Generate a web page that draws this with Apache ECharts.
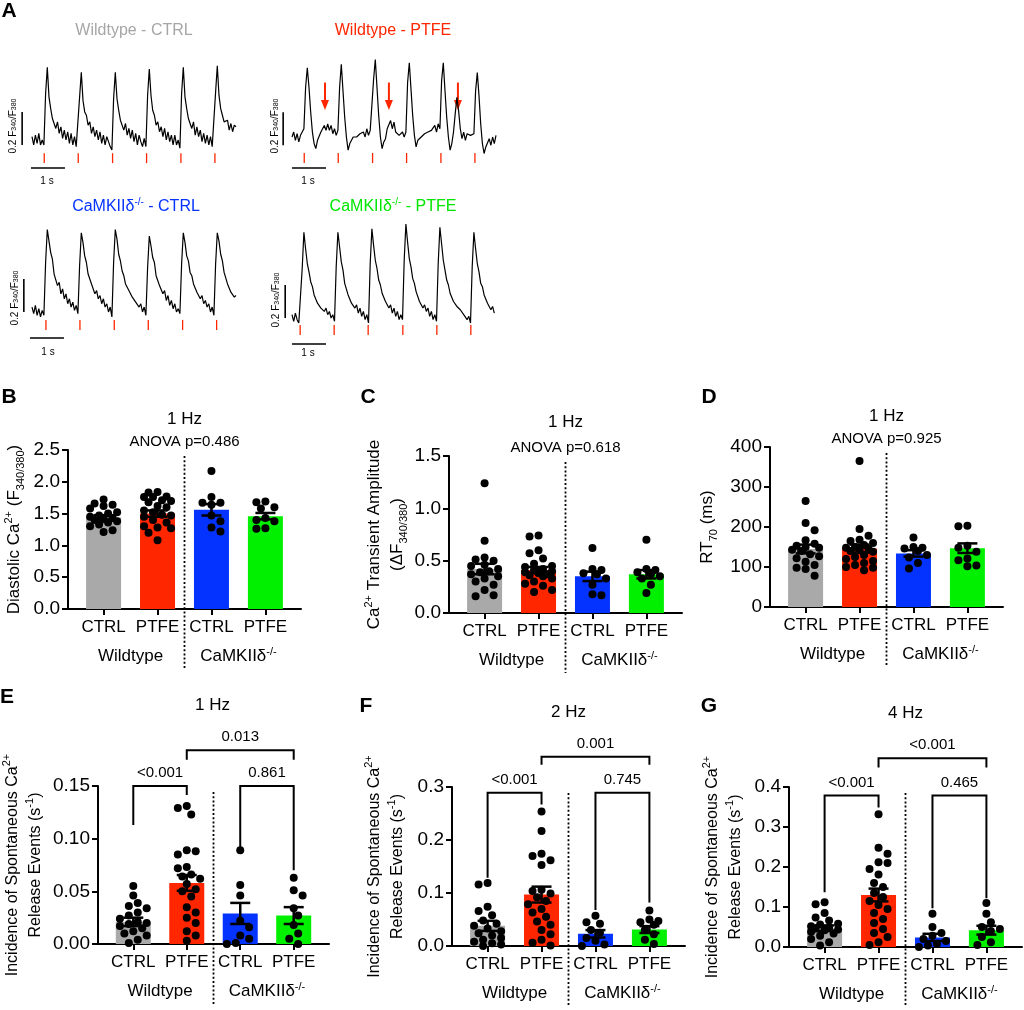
<!DOCTYPE html>
<html><head><meta charset="utf-8">
<script src="https://cdn.jsdelivr.net/npm/echarts@6/dist/echarts.min.js"></script>
<style>html,body{margin:0;padding:0;background:#fff}#c{width:1024px;height:1010px}</style>
</head><body><div id="c"></div><script>
// ---------- DATA ----------
const SAMPLE_DT = 0.05; // s between trace samples
// Ca2+ traces, units of 0.01 F340/F380 relative to diastolic baseline
const traceWtCtrl = [
2,-3,3,-2,4,-3,0,
-3,28,44,26,19,13,14,7,11,4,8,1,6,0,5,-2,4,-3,2,-4,
-5,26,41,24,17,15,9,11,4,8,2,6,0,5,-2,3,-3,2,-1,-4,
-6,25,41,25,18,12,13,6,10,3,7,1,6,-1,4,-3,3,-1,-4,1,
-4,27,43,27,18,15,9,11,5,8,2,7,0,5,-1,3,-3,3,-3,0,
-5,28,44,26,19,13,12,7,11,3,8,2,6,-1,4,-2,3,-3,2,-4,
-4,29,45,27,19,15,11,10,12,6,10,5,9,8];
const traceWtPtfe = [
0,3,-2,2,-3,1,3,
5,30,42,30,15,3,-4,-7,-2,-1,3,3,7,4,8,4,7,2,5,1,
4,30,44,28,12,0,-8,-4,-4,0,0,0,1,2,1,3,0,5,1,4,
3,35,47,30,13,0,-7,-3,-1,5,6,10,5,9,3,3,1,1,3,0,
3,33,45,29,13,1,-6,-2,-1,0,1,2,2,3,3,4,4,7,3,8,
5,34,45,28,12,0,-8,-4,3,14,24,16,5,-1,3,-2,2,2,1,1,
2,28,39,25,8,-4,-10,-6,-6,-1,-5,0,-4,1];
const traceKoCtrl = [
3,-1,4,-2,2,-3,1,
-2,30,50,43,36,32,23,23,16,18,11,14,8,11,5,8,3,6,1,4,
-1,28,48,42,34,30,23,22,17,16,11,13,8,10,5,8,3,5,0,3,
-3,30,50,44,35,31,25,22,17,16,13,12,9,9,6,7,3,5,0,3,
-2,27,46,40,33,30,22,22,16,16,11,13,7,10,4,7,2,5,0,2,
-1,29,48,42,34,31,24,22,17,17,12,12,8,10,5,7,3,5,0,3,
-2,29,48,43,35,31,24,23,17,17,12,13,9,10];
const traceKoPtfe = [
2,-2,3,-1,-3,
-3,30,52,42,33,28,22,19,14,14,9,10,6,7,4,6,2,4,0,2,
-2,31,52,43,34,29,21,20,14,14,9,10,6,8,3,6,1,4,-1,2,
-3,33,54,44,35,30,23,20,15,15,10,11,6,8,3,6,1,4,-1,2,
-1,35,57,46,36,31,24,21,16,15,10,11,6,8,4,6,1,4,-1,2,
-2,33,55,45,35,29,23,20,15,14,10,10,7,6,5,4,2,3,-1,1,
-3,31,52,42,33,28,21,19,14,13,9,10,5,7,3];
const stimWtCtrl = [0.36,1.36,2.37,3.37,4.38,5.38];
const stimWtPtfe = [0.36,1.36,2.37,3.37,4.38,5.38];
const stimKoCtrl = [0.41,1.41,2.42,3.42,4.43,5.43];
const stimKoPtfe = [0.24,1.24,2.24,3.26,4.26,5.26];
const spontaneousWtPtfe = [0.97,2.85,4.88]; // s, arrows
const SCALE_RATIO = 0.2, SCALE_SEC = 1;

const categories = ['CTRL','PTFE','CTRL','PTFE'];
const genotypes = ['Wildtype','CaMKIIδ'];
const traceTitles = ['Wildtype - CTRL','Wildtype - PTFE','CaMKIIδ|-/-| - CTRL','CaMKIIδ|-/-| - PTFE'];

const diastolicMean = [1.44,1.50,1.56,1.46];
const diastolicSem = [0.035,0.05,0.09,0.05];
const diastolicPoints = [
 [1.72,1.66,1.64,1.62,1.58,1.52,1.50,1.47,1.45,1.43,1.41,1.40,1.38,1.36,1.33,1.30,1.24,1.21],
 [1.84,1.83,1.77,1.76,1.76,1.71,1.70,1.68,1.62,1.60,1.55,1.52,1.48,1.47,1.45,1.40,1.36,1.30,1.28,1.27,1.20,1.08],
 [2.17,1.76,1.67,1.67,1.64,1.47,1.38,1.28,1.22],
 [1.69,1.68,1.60,1.58,1.43,1.40,1.38,1.27,1.26]];
const amplitudeMean = [0.42,0.41,0.35,0.37];
const amplitudeSem = [0.05,0.03,0.045,0.04];
const amplitudePoints = [
 [1.24,0.69,0.53,0.51,0.50,0.46,0.45,0.42,0.40,0.39,0.37,0.35,0.33,0.30,0.27,0.22,0.17,0.16],
 [0.74,0.73,0.60,0.57,0.52,0.47,0.45,0.44,0.42,0.41,0.40,0.39,0.38,0.37,0.36,0.35,0.33,0.30,0.28,0.26,0.22,0.20],
 [0.62,0.42,0.41,0.38,0.37,0.33,0.27,0.18,0.17],
 [0.70,0.42,0.41,0.39,0.37,0.35,0.33,0.27,0.19]];
const rt70Mean = [145,146,134,147];
const rt70Sem = [11,10,8,12];
const rt70Points = [
 [265,210,192,167,158,153,150,148,143,140,132,127,122,113,105,98,95,78],
 [365,195,178,168,165,160,155,150,148,145,142,140,138,130,125,120,115,110,105,100,98,92],
 [174,150,148,146,140,130,124,110,96],
 [203,202,153,148,138,121,117,104,102]];
const sre1HzMean = [0.021,0.058,0.029,0.027];
const sre1HzSem = [0.004,0.0075,0.010,0.008];
const sre1HzPoints = [
 [0.055,0.046,0.039,0.036,0.034,0.030,0.027,0.024,0.021,0.020,0.019,0.017,0.015,0.012,0.010,0.008,0.004,0.001],
 [0.131,0.129,0.123,0.089,0.088,0.085,0.073,0.072,0.066,0.064,0.062,0.057,0.052,0.050,0.045,0.035,0.030,0.025,0.020,0.012,0.008,0.003],
 [0.089,0.056,0.046,0.022,0.016,0.008,0.005,0.001,0.000],
 [0.063,0.051,0.046,0.034,0.027,0.018,0.010,0.005,0.000]];
const sre2HzMean = [0.038,0.097,0.023,0.031];
const sre2HzSem = [0.0095,0.015,0.007,0.0065];
const sre2HzPoints = [
 [0.119,0.116,0.074,0.066,0.058,0.048,0.042,0.038,0.033,0.028,0.024,0.020,0.015,0.012,0.008,0.005,0.003,0.000],
 [0.254,0.217,0.174,0.170,0.162,0.153,0.106,0.104,0.099,0.092,0.085,0.079,0.070,0.063,0.055,0.046,0.040,0.030,0.022,0.012,0.006,0.001],
 [0.057,0.045,0.042,0.030,0.025,0.015,0.010,0.003,0.000],
 [0.067,0.050,0.047,0.045,0.040,0.030,0.022,0.012,0.004]];
const sre4HzMean = [0.047,0.130,0.024,0.042];
const sre4HzSem = [0.007,0.016,0.009,0.011];
const sre4HzPoints = [
 [0.112,0.107,0.085,0.074,0.066,0.058,0.056,0.052,0.048,0.046,0.044,0.042,0.038,0.034,0.028,0.020,0.012,0.004],
 [0.332,0.248,0.233,0.212,0.210,0.195,0.181,0.160,0.150,0.135,0.125,0.115,0.105,0.095,0.085,0.070,0.060,0.045,0.035,0.025,0.012,0.005],
 [0.083,0.050,0.035,0.028,0.020,0.015,0.008,0.004,0.000],
 [0.110,0.083,0.062,0.050,0.045,0.040,0.025,0.012,0.005]];
const anovaP = ['0.486','0.618','0.925'];
const sre1HzP = ['0.013','<0.001','0.861'];
const sre2HzP = ['0.001','<0.001','0.745'];
const sre4HzP = ['<0.001','<0.001','0.465'];

// ---------- STYLE / LAYOUT ----------
const FONT = '"Liberation Sans", Arial, Helvetica, sans-serif';
const COLORS = ['#a9a9a9','#ff2600','#0433ff','#00f000'];
const TITLE_COLORS = ['#a6a6a6','#ff2600','#0433ff','#00e600'];
const PX_PER_S = 34, PX_PER_U = 1.65;
const TRACES = [
 {data:traceWtCtrl, stims:stimWtCtrl, x0:32, base:140, tick:[-8,-14], vbar:[-0.29,-3], hbar:[-0.03,-17], title:[134,31], lab:[13,126], sec:[47,181]},
 {data:traceWtPtfe, stims:stimWtPtfe, x0:292, base:137, tick:[-9.7,-15.8], vbar:[-0.26,-5], hbar:[0,-18.8], title:[393,31], lab:[275,126], sec:[308,181], arrows:spontaneousWtPtfe},
 {data:traceKoCtrl, stims:stimKoCtrl, x0:32, base:312, tick:[-4.8,-10.9], vbar:[-0.24,0], hbar:[-0.06,-15.8], title:[136,207], lab:[15,298], sec:[48,352]},
 {data:traceKoPtfe, stims:stimKoPtfe, x0:292, base:318, tick:[-4.2,-10.3], vbar:[-0.2,0], hbar:[0,-15.8], title:[393,207], lab:[276,300], sec:[308,353]}
];
const XMIN = 0.34, XMAX = 4.66;
const SRE_NAME = 'Incidence of Spontaneous Ca{sup|2+}\nRelease Events (s{sup|-1})';
const PANELS = [
 {means:diastolicMean, sems:diastolicSem, pts:diastolicPoints, left:68, top:450, width:233, height:159, max:2.5, interval:0.5, dec:1,
  name:'Diastolic Ca{sup|2+} (F{sub|340/380})', nameGap:42, nameSize:17, title:'1 Hz', titleY:419, anova:anovaP[0], anovaY:442},
 {means:amplitudeMean, sems:amplitudeSem, pts:amplitudePoints, left:449, top:456, width:233, height:157, max:1.5, interval:0.5, dec:1,
  name:'Ca{sup|2+} Transient Amplitude\n(ΔF{sub|340/380})', nameGap:40, nameSize:17, title:'1 Hz', titleY:422, anova:anovaP[1], anovaY:448},
 {means:rt70Mean, sems:rt70Sem, pts:rt70Points, left:770, top:447, width:233, height:160, max:400, interval:100, dec:0,
  name:'RT{sub|70} (ms)', nameGap:51, nameSize:17, title:'1 Hz', titleY:416, anova:anovaP[2], anovaY:439},
 {means:sre1HzMean, sems:sre1HzSem, pts:sre1HzPoints, left:96, top:786, width:233, height:158, max:0.15, interval:0.05, dec:2,
  name:SRE_NAME, nameGap:51, nameSize:16, title:'1 Hz', titleY:705, pvals:sre1HzP,
  brackets:[{a:2,b:4,y:0.184,la:0.175,lb:0.175},{a:1,b:2,y:0.150,la:0.113,lb:0.1415},{a:3,b:4,y:0.150,la:0.092,lb:0.070}]},
 {means:sre2HzMean, sems:sre2HzSem, pts:sre2HzPoints, left:452, top:787, width:233, height:159, max:0.3, interval:0.1, dec:1,
  name:SRE_NAME, nameGap:43, nameSize:16, title:'2 Hz', titleY:712, pvals:sre2HzP,
  brackets:[{a:2,b:4,y:0.357,la:0.342,lb:0.342},{a:1,b:2,y:0.289,la:0.129,lb:0.267},{a:3,b:4,y:0.289,la:0.068,lb:0.082}]},
 {means:sre4HzMean, sems:sre4HzSem, pts:sre4HzPoints, left:789, top:787, width:233, height:160, max:0.4, interval:0.1, dec:1,
  name:SRE_NAME, nameGap:42, nameSize:16, title:'4 Hz', titleY:713, pvals:sre4HzP,
  brackets:[{a:2,b:4,y:0.472,la:0.449,lb:0.449},{a:1,b:2,y:0.379,la:0.137,lb:0.349},{a:3,b:4,y:0.379,la:0.097,lb:0.122}]}
];

function swarm(vals, center, pxY, pxX) {
  const placed = [], out = new Array(vals.length);
  const order = vals.map((v,i)=>i).sort((a,b)=>vals[b]-vals[a]);
  const D = 8.6, STEP = 4.5, MAXOFF = 17;
  const cands = [0]; for (let k=1;k*STEP<=MAXOFF;k++) cands.push(k*STEP,-k*STEP);
  order.forEach((idx,n)=>{
    const y = vals[idx]*pxY;
    let choice=null, bestC=0, bestD=-1;
    const cs = (n%2)?cands.map(c=>-c):cands;
    for (const c of cs) {
      let md = Infinity;
      for (const p of placed) md = Math.min(md, Math.hypot(p[0]-c, p[1]-y));
      if (md >= D) { choice = c; break; }
      if (md > bestD) { bestD = md; bestC = c; }
    }
    if (choice===null) choice = bestC;
    placed.push([choice,y]);
    out[idx] = [center + choice/pxX, vals[idx]];
  });
  return out;
}

const grid=[], xAxis=[], yAxis=[], series=[], graphic=[];
function txt(text, x, y, size, color, opts) {
  graphic.push(Object.assign({type:'text', x, y, silent:true, style:Object.assign({text, fill:color||'#000', fontSize:size, fontFamily:FONT,
    align:'center', verticalAlign:'middle', textAlign:'center', textVerticalAlign:'middle'}, (opts&&opts.style)||{})}, (opts&&opts.el)||{}));
}

// ---------- Panel A traces ----------
TRACES.forEach((tr,k)=>{
  grid.push({left:tr.x0-0.5*PX_PER_S, top:tr.base-60*PX_PER_U, width:6.8*PX_PER_S, height:90*PX_PER_U});
  xAxis.push({gridIndex:k, type:'value', min:-0.5, max:6.3, show:false});
  yAxis.push({gridIndex:k, type:'value', min:-30, max:60, show:false});
  series.push({type:'line', xAxisIndex:k, yAxisIndex:k, data:tr.data.map((v,i)=>[i*SAMPLE_DT, v]), symbol:'none', silent:true,
    lineStyle:{color:'#000', width:1.2}});
  series.push({type:'custom', xAxisIndex:k, yAxisIndex:k, clip:false, silent:true, data:tr.stims.map(t=>[t, tr.tick[0]]),
    renderItem:(p,api)=>{const a=api.coord([api.value(0),tr.tick[0]]), b=api.coord([api.value(0),tr.tick[1]]);
      return {type:'line', shape:{x1:a[0],y1:a[1],x2:b[0],y2:b[1]}, style:{stroke:'#ff2600', lineWidth:1.3}};}});
  series.push({type:'custom', xAxisIndex:k, yAxisIndex:k, clip:false, silent:true, data:[[tr.vbar[0], tr.vbar[1]]],
    renderItem:(p,api)=>{
      const v0=api.coord([tr.vbar[0], tr.vbar[1]]), v1=api.coord([tr.vbar[0], tr.vbar[1]+SCALE_RATIO*100]);
      const h0=api.coord([tr.hbar[0], tr.hbar[1]]), h1=api.coord([tr.hbar[0]+SCALE_SEC, tr.hbar[1]]);
      return {type:'group', children:[
        {type:'line', shape:{x1:v0[0],y1:v0[1],x2:v1[0],y2:v1[1]}, style:{stroke:'#000', lineWidth:1.6}},
        {type:'line', shape:{x1:h0[0],y1:h0[1],x2:h1[0],y2:h1[1]}, style:{stroke:'#000', lineWidth:1.6}}]};}});
  if (tr.arrows) {
    series.push({type:'custom', xAxisIndex:k, yAxisIndex:k, clip:false, silent:true, data:tr.arrows.map(t=>[t,33]),
      renderItem:(p,api)=>{const a=api.coord([api.value(0),33]), b=api.coord([api.value(0),16.4]);
        return {type:'group', children:[
          {type:'line', shape:{x1:a[0],y1:a[1],x2:b[0],y2:b[1]-8}, style:{stroke:'#ff2600', lineWidth:2}},
          {type:'polygon', shape:{points:[[b[0]-4,b[1]-10],[b[0]+4,b[1]-10],[b[0],b[1]]]}, style:{fill:'#ff2600'}}]};}});
  }
  const t = traceTitles[k].split('|');
  if (t.length===1) txt(t[0], tr.title[0], tr.title[1], 16, TITLE_COLORS[k]);
  else txt('{m|'+t[0]+'}{s|'+t[1]+'}{m|'+t[2]+'}', tr.title[0], tr.title[1], 16, TITLE_COLORS[k],
    {style:{rich:{m:{fontSize:16, fill:TITLE_COLORS[k], lineHeight:20}, s:{fontSize:10, fill:TITLE_COLORS[k], verticalAlign:'top', lineHeight:12}}}});
  txt('0.2 F{b|340}/F{b|380}', tr.lab[0], tr.lab[1], 10, '#000', {el:{rotation:Math.PI/2},
    style:{rich:{b:{fontSize:7, verticalAlign:'bottom', lineHeight:10, fill:'#000'}}}});
  txt('1 s', tr.sec[0], tr.sec[1], 10, '#000');
});

// ---------- Bar panels ----------
PANELS.forEach((P,j)=>{
  const g = TRACES.length + j;
  const pxX = P.width/(XMAX-XMIN), pxY = P.height/P.max;
  grid.push({left:P.left, top:P.top, width:P.width, height:P.height});
  xAxis.push({gridIndex:g, type:'value', min:XMIN, max:XMAX,
    axisLine:{show:true, onZero:false, lineStyle:{color:'#000', width:2}},
    axisTick:{show:true, customValues:[1,2,3,4], length:6, lineStyle:{color:'#000', width:2}},
    axisLabel:{show:true, customValues:[1,2,3,4], formatter:v=>categories[Math.round(v)-1]||'', color:'#000', fontSize:17, fontFamily:FONT, margin:10},
    splitLine:{show:false}});
  yAxis.push({gridIndex:g, type:'value', min:0, max:P.max, interval:P.interval,
    axisLine:{show:true, lineStyle:{color:'#000', width:2}},
    axisTick:{show:true, length:6, lineStyle:{color:'#000', width:2}},
    axisLabel:{formatter:v=>v.toFixed(P.dec), color:'#000', fontSize:19, fontFamily:FONT, margin:8},
    splitLine:{show:false},
    name:P.name, nameLocation:'middle', nameGap:P.nameGap,
    nameTextStyle:{color:'#000', fontSize:P.nameSize, fontFamily:FONT, lineHeight:23,
      rich:{sup:{fontSize:11, verticalAlign:'top', lineHeight:13, color:'#000', fontFamily:FONT}, sub:{fontSize:11, verticalAlign:'bottom', lineHeight:13, color:'#000', fontFamily:FONT}}}});
  series.push({type:'bar', xAxisIndex:g, yAxisIndex:g, barWidth:35, silent:true, z:2,
    data:P.means.map((m,i)=>({value:[i+1,m], itemStyle:{color:COLORS[i]}}))});
  const pts = [];
  P.pts.forEach((arr,i)=>swarm(arr, i+1, pxY, pxX).forEach(p=>pts.push(p)));
  series.push({type:'scatter', xAxisIndex:g, yAxisIndex:g, data:pts, symbolSize:8, clip:false, silent:true, z:3,
    itemStyle:{color:'#000', opacity:1}});
  series.push({type:'custom', xAxisIndex:g, yAxisIndex:g, clip:false, silent:true, z:4,
    data:P.means.map((m,i)=>[i+1,m,P.sems[i]]),
    renderItem:(p,api)=>{
      const x=api.value(0), m=api.value(1), s=api.value(2);
      const a=api.coord([x,m+s]), b=api.coord([x,m-s]), c=10, st={stroke:'#000', lineWidth:2.5};
      return {type:'group', children:[
        {type:'line', shape:{x1:a[0],y1:a[1],x2:b[0],y2:b[1]}, style:st},
        {type:'line', shape:{x1:a[0]-c,y1:a[1],x2:a[0]+c,y2:a[1]}, style:st},
        {type:'line', shape:{x1:b[0]-c,y1:b[1],x2:b[0]+c,y2:b[1]}, style:st}]};}});
  series.push({type:'custom', xAxisIndex:g, yAxisIndex:g, clip:false, silent:true, z:5,
    data:[[2.5,P.max]],
    renderItem:(p,api)=>{
      const a=api.coord([2.5,P.max]), b=api.coord([2.5,0]);
      const l1=api.coord([1.5,0]), l2=api.coord([3.5,0]);
      return {type:'group', children:[
        {type:'line', shape:{x1:a[0],y1:a[1]+6,x2:b[0],y2:b[1]+60}, style:{stroke:'#000', lineWidth:1.8, lineDash:[2,2.2]}},
        {type:'text', x:l1[0], y:l1[1]+47, style:{text:genotypes[0], fontSize:17, fontFamily:FONT, fill:'#000', align:'center', verticalAlign:'middle'}},
        {type:'text', x:l2[0], y:l2[1]+47, style:{text:'{g|'+genotypes[1]+'}{s|-/-}', fontSize:17, fontFamily:FONT, fill:'#000', align:'center', verticalAlign:'middle',
          rich:{g:{fontSize:17, fontFamily:FONT, fill:'#000', lineHeight:20}, s:{fontSize:11, fontFamily:FONT, fill:'#000', verticalAlign:'top', lineHeight:12}}}}]};}});
  if (P.brackets) {
    series.push({type:'custom', xAxisIndex:g, yAxisIndex:g, clip:false, silent:true, z:5,
      data:P.brackets.map(b=>[b.a,b.y]),
      renderItem:(p,api)=>{
        const B=P.brackets[p.dataIndex];
        const a=api.coord([B.a,B.y]), b=api.coord([B.b,B.y]), la=api.coord([B.a,B.la]), lb=api.coord([B.b,B.lb]);
        const st={stroke:'#000', lineWidth:2};
        return {type:'group', children:[
          {type:'polyline', shape:{points:[[la[0],la[1]],[a[0],a[1]],[b[0],b[1]],[lb[0],lb[1]]]}, style:Object.assign({fill:null},st)},
          {type:'text', x:(a[0]+b[0])/2, y:a[1]-13, style:{text:P.pvals[p.dataIndex], fontSize:15, fontFamily:FONT, fill:'#000', align:'center', verticalAlign:'middle'}}]};}});
  }
  const cx = P.left + (2.5-XMIN)*pxX;
  txt(P.title, cx, P.titleY, 17, '#000');
  if (P.anova) txt('ANOVA p='+P.anova, cx, P.anovaY, 15, '#000');
});

[['A',9,11],['B',9,397],['C',368,397],['D',709,397],['E',7,697],['F',366,706],['G',709,706]].forEach(l=>
  txt(l[0], l[1], l[2], 21, '#000', {style:{fontWeight:'bold'}}));

const chart = echarts.init(document.getElementById('c'), null, {renderer:'canvas'});
chart.setOption({animation:false, backgroundColor:'#fff', textStyle:{fontFamily:FONT},
  grid, xAxis, yAxis, series, graphic:{elements:graphic}});
</script></body></html>
